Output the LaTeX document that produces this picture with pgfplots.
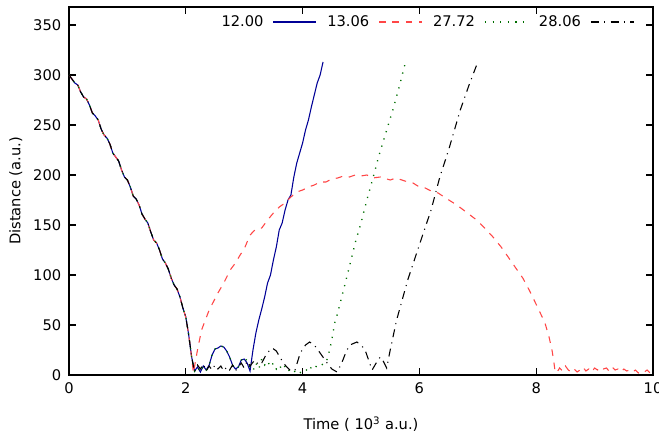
\documentclass[border=0pt]{standalone}
\usepackage{fontspec}
\setmainfont{DejaVu Sans}
\usepackage{pgfplots}
\pgfplotsset{compat=1.18}
\definecolor{cblue}{RGB}{0,0,150}
\definecolor{cred}{RGB}{255,70,70}
\definecolor{cgreen}{RGB}{0,110,0}

\begin{document}
\fontsize{11}{13}\selectfont
\begin{tikzpicture}
\begin{axis}[
    scale only axis,
    width=438pt, height=276pt,
    xmin=0, xmax=10,
    ymin=0, ymax=368,
    xtick={0,2,4,6,8,10},
    ytick={0,50,100,150,200,250,300,350},
    tick align=inside,
    major tick length=5pt,
    axis line style={line width=0.9pt},
    every tick/.style={black, line width=0.9pt},
    /pgf/number format/assume math mode=true,
    xlabel={Time ( 10\textsuperscript{3} a.u.)},
    ylabel={Distance (a.u.)},
    xlabel style={at={(0.5,-37pt)}, anchor=center},
    ylabel style={at={(-40pt,0.5)}, anchor=center},
    xticklabel style={yshift=-2pt},
    yticklabel style={xshift=-2pt},
    legend plot pos=right,
    legend columns=4,
    legend image code/.code={\draw[#1] (0pt,0pt) -- (32pt,0pt);},
    legend style={at={(rel axis cs:0.968,0.985)}, anchor=north east,
        draw=none, fill=none, inner sep=0pt,
        /tikz/every odd column/.append style={column sep=5pt},
        /tikz/every even column/.append style={column sep=6pt}},
]
\addplot[cblue, line width=0.8pt] coordinates {
(0,300) (0.05,296) (0.1,292) (0.15,290) (0.2,283) (0.25,278) (0.3,276) (0.35,270)
(0.4,262) (0.45,259) (0.5,255) (0.55,246) (0.6,240) (0.65,237) (0.7,231) (0.75,222)
(0.8,218) (0.85,214) (0.9,205) (0.95,198) (1.0,195) (1.05,188) (1.1,179) (1.15,176)
(1.2,170) (1.25,161) (1.3,156) (1.35,152) (1.4,143) (1.45,135) (1.5,132) (1.55,125)
(1.6,116) (1.65,112) (1.7,106) (1.75,97) (1.8,90) (1.85,86) (1.9,78) (1.95,67)
(2.0,58) (2.05,40) (2.1,18) (2.15,4) (2.2,8) (2.25,3) (2.3,9) (2.35,5) (2.4,10)
(2.45,20) (2.5,26) (2.55,27) (2.6,29) (2.65,28) (2.7,24) (2.75,18) (2.8,10)
(2.85,6) (2.9,8) (2.95,15) (3.0,16) (3.05,12) (3.1,4) (3.15,25) (3.2,42) (3.25,55)
(3.3,66) (3.35,78) (3.4,92) (3.45,100) (3.5,115) (3.55,128) (3.6,145) (3.65,152)
(3.7,165) (3.75,175) (3.8,180) (3.85,198) (3.9,212) (3.95,222) (4.0,232)
(4.05,245) (4.1,255) (4.15,268) (4.2,280) (4.25,292) (4.3,300) (4.35,313)};
\addlegendentry{12.00}

\addplot[cred, line width=0.8pt, dash pattern=on 5pt off 5pt] coordinates {
(0,300) (0.05,296) (0.1,292) (0.15,290) (0.2,283) (0.25,278) (0.3,276) (0.35,270)
(0.4,262) (0.45,259) (0.5,255) (0.55,246) (0.6,240) (0.65,237) (0.7,231) (0.75,222)
(0.8,218) (0.85,214) (0.9,205) (0.95,198) (1.0,195) (1.05,188) (1.1,179) (1.15,176)
(1.2,170) (1.25,161) (1.3,156) (1.35,152) (1.4,143) (1.45,135) (1.5,132) (1.55,125)
(1.6,116) (1.65,112) (1.7,106) (1.75,97) (1.8,90) (1.85,86) (1.9,78) (1.95,67)
(2.0,58) (2.05,40) (2.1,18) (2.13,2) (2.2,25) (2.27,45) (2.4,65) (2.55,82)
(2.65,92) (2.76,105) (2.85,112) (2.93,120) (3.0,126) (3.1,140) (3.2,146) (3.3,147)
(3.4,155) (3.5,162) (3.6,168) (3.7,172) (3.8,178) (3.9,183) (4.0,185) (4.1,188)
(4.2,190) (4.3,193) (4.4,193) (4.5,196) (4.6,197) (4.7,199) (4.8,198) (4.9,200)
(5.0,199) (5.1,200) (5.2,197) (5.33,198) (5.5,195) (5.6,197) (5.75,194) (5.89,192)
(6.0,188) (6.1,187) (6.2,184) (6.32,182) (6.45,177) (6.64,170) (6.8,163) (6.98,155)
(7.1,148) (7.26,138) (7.4,128) (7.52,118) (7.65,107) (7.77,97) (7.88,85) (7.98,73)
(8.07,62) (8.15,52) (8.22,38) (8.27,25) (8.3,14) (8.32,5) (8.35,2) (8.4,7)
(8.45,4) (8.5,9) (8.55,5) (8.6,3) (8.65,6) (8.7,3) (8.75,5) (8.8,8) (8.85,4)
(8.9,6) (8.95,3) (9.0,7) (9.05,5) (9.1,8) (9.15,6) (9.2,7) (9.25,4) (9.3,8)
(9.35,5) (9.4,6) (9.45,3) (9.5,6) (9.55,4) (9.6,5) (9.65,3) (9.7,5) (9.75,2)
(9.8,4) (9.85,3) (9.9,5) (9.95,2) (10.0,6)};
\addlegendentry{13.06}

\addplot[cgreen, line width=1pt, dash pattern=on 0.9pt off 4.8pt] coordinates {
(0,300) (0.05,296) (0.1,292) (0.15,290) (0.2,283) (0.25,278) (0.3,276) (0.35,270)
(0.4,262) (0.45,259) (0.5,255) (0.55,246) (0.6,240) (0.65,237) (0.7,231) (0.75,222)
(0.8,218) (0.85,214) (0.9,205) (0.95,198) (1.0,195) (1.05,188) (1.1,179) (1.15,176)
(1.2,170) (1.25,161) (1.3,156) (1.35,152) (1.4,143) (1.45,135) (1.5,132) (1.55,125)
(1.6,116) (1.65,112) (1.7,106) (1.75,97) (1.8,90) (1.85,86) (1.9,78) (1.95,67)
(2.0,58) (2.05,40) (2.1,18) (2.15,4) (2.2,8) (2.25,3) (2.3,9) (2.35,5) (2.4,10)
(2.45,20) (2.5,26) (2.55,27) (2.6,29) (2.65,28) (2.7,24) (2.75,18) (2.8,10)
(2.85,6) (2.9,8) (2.95,15) (3.0,18) (3.05,14) (3.1,8) (3.15,4) (3.2,12) (3.25,6)
(3.3,16) (3.35,10) (3.4,14) (3.45,8) (3.5,12) (3.55,6) (3.6,10) (3.65,5) (3.7,9)
(3.75,4) (3.8,6) (3.85,3) (3.9,5) (3.95,2) (4.0,4) (4.05,6) (4.1,3) (4.15,8)
(4.2,6) (4.25,10) (4.3,9) (4.35,11) (4.4,12) (4.45,22) (4.5,35) (4.55,52) (4.6,62)
(4.7,85) (4.8,108) (4.9,132) (5.0,152) (5.1,175) (5.21,198) (5.3,218) (5.44,245)
(5.55,266) (5.64,285) (5.75,310)};
\addlegendentry{27.72}

\addplot[black, line width=0.8pt, dash pattern=on 6pt off 4pt on 0.8pt off 4pt] coordinates {
(0,300) (0.05,296) (0.1,292) (0.15,290) (0.2,283) (0.25,278) (0.3,276) (0.35,270)
(0.4,262) (0.45,259) (0.5,255) (0.55,246) (0.6,240) (0.65,237) (0.7,231) (0.75,222)
(0.8,218) (0.85,214) (0.9,205) (0.95,198) (1.0,195) (1.05,188) (1.1,179) (1.15,176)
(1.2,170) (1.25,161) (1.3,156) (1.35,152) (1.4,143) (1.45,135) (1.5,132) (1.55,125)
(1.6,116) (1.65,112) (1.7,106) (1.75,97) (1.8,90) (1.85,86) (1.9,78) (1.95,67)
(2.0,58) (2.05,40) (2.1,18) (2.15,3) (2.2,10) (2.25,6) (2.3,11) (2.35,4) (2.4,9)
(2.45,5) (2.5,10) (2.55,6) (2.6,9) (2.65,4) (2.7,8) (2.75,5) (2.8,10) (2.85,4)
(2.9,8) (2.95,12) (3.0,7) (3.05,14) (3.1,9) (3.18,15) (3.25,10) (3.3,12) (3.39,22)
(3.48,27) (3.55,24) (3.61,18) (3.67,12) (3.73,8) (3.8,4) (3.87,5) (3.96,22)
(4.05,30) (4.12,33) (4.2,30) (4.3,22) (4.42,12) (4.5,6) (4.59,3) (4.67,12)
(4.75,24) (4.81,30) (4.93,33) (5.0,30) (5.07,25) (5.13,15) (5.19,5) (5.26,12)
(5.33,18) (5.38,14) (5.44,7) (5.5,25) (5.61,55) (5.8,95) (6.01,132) (6.2,165)
(6.35,198) (6.5,225) (6.7,265) (6.85,290) (7.0,313)};
\addlegendentry{28.06}
\end{axis}
\pgfresetboundingbox
\path ([xshift=-51.75pt,yshift=-46.5pt]current axis.south west)
    rectangle ([xshift=4.5pt,yshift=5.25pt]current axis.north east);
\end{tikzpicture}
\end{document}
